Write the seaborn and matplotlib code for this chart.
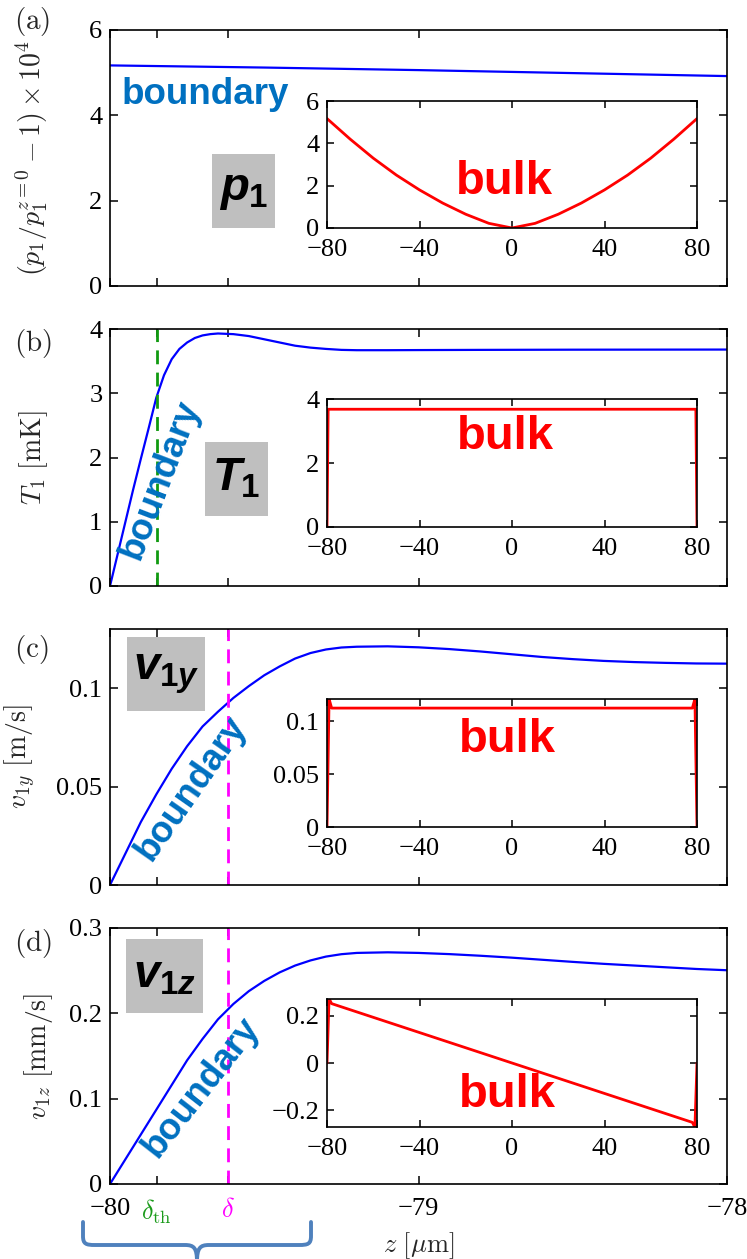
import numpy as np
import pandas as pd
import matplotlib
matplotlib.use("Agg")
import matplotlib.pyplot as plt
import seaborn as sns
from matplotlib.patches import Rectangle, PathPatch
from matplotlib.path import Path

# ---------------- data ----------------
delta_th = -79.848
delta = -79.617

z_p = [-80.0, -79.5, -79.0, -78.5, -78.0]
p_main = [5.17, 5.12, 5.06, 4.99, 4.92]

z_T = [-80.0, -79.975, -79.95, -79.925, -79.90, -79.875, -79.85, -79.825, -79.80,
       -79.775, -79.75, -79.725, -79.70, -79.675, -79.65, -79.60, -79.55, -79.50,
       -79.45, -79.40, -79.35, -79.30, -79.25, -79.20, -79.10, -79.00, -78.80,
       -78.50, -78.00]
T_main = [0.0, 0.50, 1.00, 1.50, 1.98, 2.45, 2.93, 3.28, 3.53,
          3.69, 3.79, 3.86, 3.90, 3.92, 3.93, 3.92, 3.89, 3.84,
          3.79, 3.74, 3.71, 3.69, 3.675, 3.67, 3.67, 3.672, 3.675,
          3.678, 3.68]

z_vy = [-80.0, -79.95, -79.90, -79.85, -79.80, -79.75, -79.70, -79.65, -79.60,
        -79.55, -79.50, -79.45, -79.40, -79.35, -79.30, -79.25, -79.20, -79.10,
        -79.00, -78.90, -78.80, -78.70, -78.60, -78.50, -78.40, -78.30, -78.20,
        -78.10, -78.00]
vy_main = [0.0, 0.016, 0.032, 0.046, 0.059, 0.0705, 0.0805, 0.0880, 0.0950,
           0.1010, 0.1065, 0.1110, 0.1150, 0.1178, 0.1196, 0.1206, 0.1210, 0.1212,
           0.1207, 0.1198, 0.1186, 0.1172, 0.1158, 0.1147, 0.1138, 0.1132, 0.1128,
           0.1125, 0.1124]

z_vz = [-80.0, -79.95, -79.90, -79.85, -79.80, -79.75, -79.70, -79.65, -79.60,
        -79.55, -79.50, -79.45, -79.40, -79.35, -79.30, -79.25, -79.20, -79.10,
        -79.00, -78.90, -78.80, -78.70, -78.60, -78.50, -78.40, -78.30, -78.20,
        -78.10, -78.00]
vz_main = [0.0, 0.029, 0.058, 0.087, 0.116, 0.145, 0.170, 0.193, 0.211,
           0.226, 0.238, 0.248, 0.256, 0.262, 0.2665, 0.2693, 0.2708, 0.2715,
           0.2708, 0.2694, 0.2675, 0.2653, 0.2628, 0.2603, 0.2580, 0.2560, 0.2540,
           0.2520, 0.2505]

bulk_p_z = [-80, -70, -60, -50, -40, -30, -20, -10, 0, 10, 20, 30, 40, 50, 60, 70, 80]
bulk_p = [5.17, 4.20, 3.30, 2.50, 1.80, 1.18, 0.65, 0.22, 0.0,
          0.22, 0.65, 1.18, 1.80, 2.50, 3.30, 4.20, 5.17]

bulk_T_z = [-80.0, -79.5, 79.5, 80.0]
bulk_T = [0.0, 3.68, 3.68, 0.0]

bulk_vy_z = [-80.0, -79.1, -78.0, 78.0, 79.1, 80.0]
bulk_vy = [0.0, 0.1211, 0.1124, 0.1124, 0.1211, 0.0]

bulk_vz_z = [-80.0, -79.1, -78.0, 78.0, 79.1, 80.0]
bulk_vz = [0.0, 0.2715, 0.2505, -0.2505, -0.2715, 0.0]

main_xticks = [-80, delta_th, delta, -79, -78]
main_xticklabels = ["\u221280", r"$\delta_{\rm th}$", r"$\delta$", "\u221279", "\u221278"]
inset_xticks = [-80, -40, 0, 40, 80]
inset_xticklabels = ["\u221280", "\u221240", "0", "40", "80"]

panel_letters = ["(a)", "(b)", "(c)", "(d)"]
ylabels = [r"$(p_1/p_1^{z=0}-1)\times10^4$", r"$T_1\ [\mathrm{mK}]$",
           r"$v_{1y}\ [\mathrm{m/s}]$", r"$v_{1z}\ [\mathrm{mm/s}]$"]
box_labels = [r"$p_1$", r"$T_1$", r"$v_{1y}$", r"$v_{1z}$"]

main_yticks = [[0, 2, 4, 6], [0, 1, 2, 3, 4], [0, 0.05, 0.1], [0, 0.1, 0.2, 0.3]]
main_yticklabels = [["0", "2", "4", "6"], ["0", "1", "2", "3", "4"],
                    ["0", "0.05", "0.1"], ["0", "0.1", "0.2", "0.3"]]
main_ylims = [(0, 6), (0, 4), (0, 0.13), (0, 0.3)]

inset_yticks = [[0, 2, 4, 6], [0, 2, 4], [0, 0.05, 0.1], [-0.2, 0, 0.2]]
inset_yticklabels = [["0", "2", "4", "6"], ["0", "2", "4"], ["0", "0.05", "0.1"],
                     ["\u22120.2", "0", "0.2"]]
inset_ylims = [(0, 6), (0, 4), (0, 0.121), (-0.27, 0.27)]

# ---------------- style ----------------
sns.set_theme(style="ticks")
plt.rcParams["font.family"] = ["Liberation Serif", "DejaVu Serif"]
plt.rcParams["mathtext.fontset"] = "cm"
plt.rcParams["mathtext.rm"] = "Liberation Sans:bold"
plt.rcParams["mathtext.it"] = "Liberation Sans:italic:bold"
plt.rcParams["mathtext.bf"] = "Liberation Sans:bold"
plt.rcParams["axes.unicode_minus"] = True

W, H = 747, 1259
fig = plt.figure(figsize=(W / 100, H / 100), dpi=100)


def fx(px):
    return px / W


def fy(py):
    return 1 - py / H


def rect(l, t, r, b):
    return [fx(l), fy(b), (r - l) / W, (b - t) / H]


main_tb = [(30, 286), (329, 586), (629, 885), (928, 1184)]
inset_tb = [(101, 228), (399, 527), (699, 827), (999, 1127)]

main_data = [(z_p, p_main), (z_T, T_main), (z_vy, vy_main), (z_vz, vz_main)]
bulk_data = [(bulk_p_z, bulk_p), (bulk_T_z, bulk_T), (bulk_vy_z, bulk_vy), (bulk_vz_z, bulk_vz)]

ylabel_x = [-0.097, -0.097, -0.117, -0.089]
letter_pos = [(32, 22), (33, 343), (31, 649), (33, 944)]
box_rects = [(212, 154, 275, 228), (205, 442, 268, 516), (127, 637, 205, 711), (126, 939, 203, 1013)]
boundary_pos = [(205, 95, 0), (160, 480, 69), (191, 788, 55), (201, 1087, 52)]
bulk_pos = [(504, 182), (505, 437), (507, 740), (507, 1095)]


def style_axes(ax, size):
    for s in ax.spines.values():
        s.set_linewidth(1.2)
        s.set_color("black")
    ax.tick_params(direction="in", top=True, right=True, length=6, width=1.1,
                   labelsize=size, colors="black")
    ax.tick_params(axis="y", pad=5.5)
    ax.grid(False)
    ax.set_facecolor("white")


for i in range(4):
    t, b = main_tb[i]
    ax = fig.add_axes(rect(110, t, 727, b))
    zz, vv = main_data[i]
    sns.lineplot(x=zz, y=vv, ax=ax, color="#0000FF", lw=1.6, sort=False)
    ax.set_xlim(-80, -78)
    ax.set_ylim(*main_ylims[i])
    ax.set_xticks(main_xticks)
    ax.set_yticks(main_yticks[i])
    ax.set_yticklabels(main_yticklabels[i])
    style_axes(ax, 19)
    if i == 3:
        ax.set_xticklabels(main_xticklabels)
        labs = ax.get_xticklabels()
        labs[1].set_color("#1a9a1a")
        labs[2].set_color("#FF00FF")
        ax.tick_params(axis="x", pad=10)
        ax.set_xlabel(r"$z\ [\mu\mathrm{m}]$", fontsize=19)
        ax.xaxis.set_label_coords(0.5, -(1230 - 1184) / 256)
    else:
        ax.set_xticklabels([])
    ax.set_ylabel(ylabels[i], fontsize=20)
    ax.yaxis.set_label_coords(ylabel_x[i], 0.5)

    if i == 1:
        ax.axvline(delta_th, color="#109a10", lw=2.0, ls=(0, (5, 3)))
    if i >= 2:
        ax.axvline(delta, color="#FF00FF", lw=2.0, ls=(0, (5, 3)))

    # inset
    ti, bi = inset_tb[i]
    ins = fig.add_axes(rect(327, ti, 697, bi))
    bz, bv = bulk_data[i]
    sns.lineplot(x=bz, y=bv, ax=ins, color="#FF0000", lw=2.0, sort=False)
    ins.set_xlim(-80, 80)
    ins.set_ylim(*inset_ylims[i])
    ins.set_xticks(inset_xticks)
    ins.set_xticklabels(inset_xticklabels)
    ins.set_yticks(inset_yticks[i])
    ins.set_yticklabels(inset_yticklabels[i])
    style_axes(ins, 19)
    ins.tick_params(length=5)
    ins.tick_params(axis="x", pad=8)

    # panel letters
    lx, ly = letter_pos[i]
    fig.text(fx(lx), fy(ly), r"$\mathrm{" + panel_letters[i] + "}$", fontsize=21,
             ha="center", va="center")

    # gray label box
    l, tt, r, bb = box_rects[i]
    fig.add_artist(Rectangle((fx(l), fy(bb)), (r - l) / W, (bb - tt) / H,
                             transform=fig.transFigure, facecolor="#BFBFBF",
                             edgecolor="none", zorder=2))
    fig.text(fx((l + r) / 2), fy((tt + bb) / 2), box_labels[i], fontsize=34,
             ha="center", va="center", math_fontfamily="custom", color="black", zorder=3)

    # boundary text
    bxp, byp, rot = boundary_pos[i]
    fig.text(fx(bxp), fy(byp), "boundary", fontsize=26.5, fontweight="bold",
             family="Liberation Sans", color="#0070C0", rotation=rot,
             ha="center", va="center", rotation_mode="anchor", zorder=4)

    # bulk text
    kx, ky = bulk_pos[i]
    fig.text(fx(kx), fy(ky), "bulk", fontsize=34, fontweight="bold",
             family="Liberation Sans", color="#FF0000", ha="center", va="center", zorder=4)

# curly brace under the boundary region
pts_px = [(83, 1222), (83, 1236), (83, 1244), (86, 1245), (95, 1245), (185, 1245),
          (194, 1245), (197, 1248), (197, 1262)]
pts_px2 = [(311, 1222), (311, 1236), (311, 1244), (308, 1245), (299, 1245), (209, 1245),
           (200, 1245), (197, 1248), (197, 1262)]
codes = [Path.MOVETO, Path.LINETO, Path.CURVE4, Path.CURVE4, Path.CURVE4, Path.LINETO,
         Path.CURVE4, Path.CURVE4, Path.CURVE4]
for pts in (pts_px, pts_px2):
    verts = [(fx(x), fy(y)) for x, y in pts]
    fig.add_artist(PathPatch(Path(verts, codes), transform=fig.transFigure,
                             facecolor="none", edgecolor="#4F81BD", lw=2.8,
                             capstyle="round", joinstyle="round"))

fig.savefig("out.png", dpi=100, facecolor="white")
